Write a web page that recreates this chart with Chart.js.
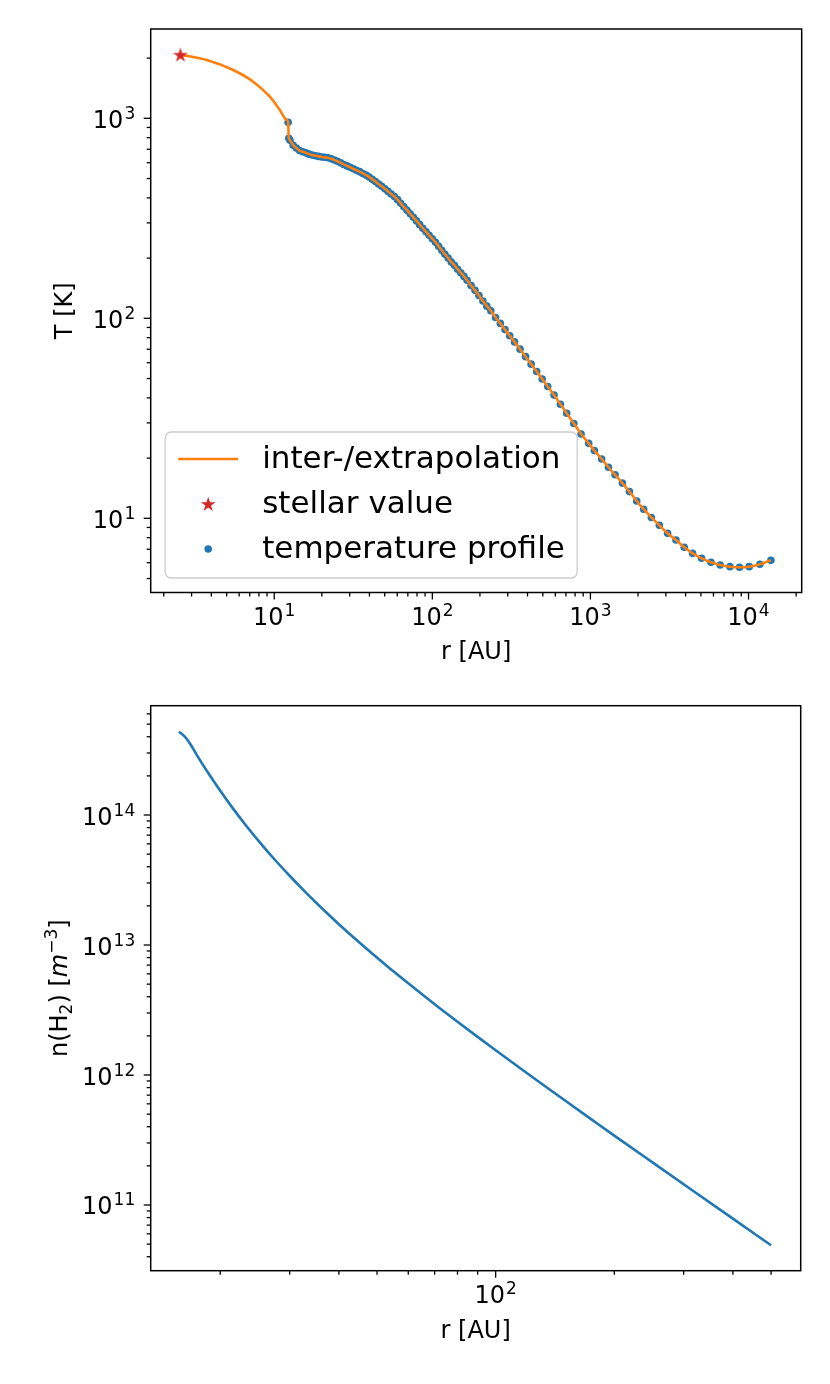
<!DOCTYPE html>
<html>
<head>
<meta charset="utf-8">
<title>Temperature and density profile</title>
<script src="https://cdn.jsdelivr.net/npm/chart.js@4.4.1/dist/chart.umd.min.js"></script>
<style>
  html, body { margin: 0; padding: 0; background: #fff; overflow: hidden; }
  #wrap { position: relative; width: 830px; height: 1384px; }
  canvas { position: absolute; left: 0; }
</style>
</head>
<body>
<div id="wrap">
  <canvas id="tempChart" width="830" height="672" style="top:0px"></canvas>
  <canvas id="densChart" width="830" height="712" style="top:672px"></canvas>
</div>
<script>
// temperature profile (dots), r in AU, T in K
const tempR = [12.24, 12.37, 12.59, 13.18, 13.80, 14.45, 15.14, 15.85, 16.60, 17.38,
  18.20, 19.05, 19.95, 20.89, 21.88, 22.91, 23.99, 25.12, 26.30, 27.54,
  28.84, 30.20, 31.62, 33.11, 34.67, 36.31, 38.02, 39.81, 41.69, 43.65,
  45.71, 47.86, 50.12, 52.48, 54.95, 57.54, 60.26, 63.10, 66.07, 69.18,
  72.44, 75.86, 79.43, 83.18, 87.10, 91.20, 95.50, 100.0, 104.7, 109.6,
  114.8, 120.2, 125.9, 131.8, 138.0, 144.5, 151.4, 158.5, 166.0, 175.8,
  186.2, 197.2, 208.9, 221.3, 234.4, 251.2, 269.2, 288.4, 309.0, 331.1,
  358.9, 389.0, 421.7, 457.1, 495.5, 537.0, 588.8, 645.7, 707.9, 785.2,
  873, 975, 1059, 1178, 1300, 1432, 1593, 1764, 1962, 2172,
  2429, 2729, 3077, 3475, 3923, 4429, 5047, 5788, 6625, 7630,
  8775, 10100, 11800, 13850];
const tempT = [955, 794, 776, 733, 711, 690, 680, 672, 662, 656,
  650, 645, 641, 638, 635, 628, 619, 610, 599, 588,
  578, 569, 559, 550, 541, 530, 520, 509, 496, 483,
  469, 457, 444, 431, 418, 406, 392, 376, 361, 347,
  333, 320, 307, 294, 282, 271, 260, 250, 240, 229,
  219, 209, 200, 191, 184, 176, 169, 162, 155, 146,
  138, 130, 122, 115, 109, 101, 94.3, 87.8, 81.8, 76.2,
  70.1, 64.3, 59.0, 54.2, 49.7, 45.6, 41.3, 37.2, 33.5, 29.8,
  26.4, 23.7, 21.8, 19.8, 18.0, 16.5, 15.0, 13.6, 12.2, 11.1,
  10.1, 9.23, 8.41, 7.79, 7.16, 6.68, 6.31, 6.03, 5.84, 5.73,
  5.69, 5.73, 5.89, 6.17];

// stellar value and the extrapolated part of the curve
const stellarR = [2.55];
const stellarT = [2080];
const extrapR = [3.74, 5.50, 7.36, 9.38, 10.85, 11.96];
const extrapT = [1956, 1744, 1524, 1282, 1100, 981];

// H2 density, r in AU, n in m^-3
const densR = [15.7, 16.3, 16.8, 17.4, 18.5, 20.0, 21.6, 23.3, 25.2, 27.3,
  30.0, 33.0, 36.5, 40.0, 44.5, 49.0, 54.0, 60.0, 66.0, 72.0,
  80.0, 90.0, 100, 115, 130, 150, 175, 200, 250, 320,
  400, 500];
const densN = [4.38e14, 3.98e14, 3.50e14, 2.93e14, 2.18e14, 1.536e14, 1.110e14, 8.24e13, 6.16e13, 4.65e13,
  3.41e13, 2.53e13, 1.875e13, 1.446e13, 1.083e13, 8.42e12, 6.58e12, 5.07e12, 4.03e12, 3.28e12,
  2.57e12, 1.965e12, 1.550e12, 1.136e12, 8.68e11, 6.36e11, 4.56e11, 3.42e11, 2.126e11, 1.259e11,
  7.85e10, 4.90e10];

// labelled decades on each axis
const tempXLabels = [10, 100, 1000, 10000];
const tempYLabels = [10, 100, 1000];
const densXLabels = [100];
const densYLabels = [1e11, 1e12, 1e13, 1e14];
const legendLabels = ['inter-/extrapolation', 'stellar value', 'temperature profile'];

const BLUE = '#1f77b4', ORANGE = '#ff7f0e', RED = '#d62728';
const FAMILY = '"DejaVu Sans", sans-serif';
Chart.defaults.font.family = FAMILY;
Chart.defaults.font.size = 24;
Chart.defaults.color = '#000';

const SUP = {'-': '\u207b', '0': '\u2070', '1': '\u00b9', '2': '\u00b2', '3': '\u00b3',
  '4': '\u2074', '5': '\u2075', '6': '\u2076', '7': '\u2077', '8': '\u2078', '9': '\u2079'};
function powerLabel(v) {
  const e = Math.round(Math.log10(v));
  return '10' + String(e).split('').map(c => SUP[c]).join('');
}
function isDecade(v) {
  const l = Math.log10(v);
  return Math.abs(l - Math.round(l)) < 1e-6;
}
function logTicks(min, max) {
  const out = [];
  for (let d = Math.floor(Math.log10(min)); d <= Math.ceil(Math.log10(max)); d++) {
    for (let m = 1; m <= 9; m++) {
      const v = m * Math.pow(10, d);
      if (v >= min && v <= max) out.push({ value: v, major: m === 1 });
    }
  }
  return out;
}
function pts(xs, ys) { return xs.map((x, i) => ({ x: x, y: ys[i] })); }

// "10" with a raised exponent, like matplotlib's mathtext tick labels
function drawPower(ctx, v, x, base, align) {
  const e = String(Math.round(Math.log10(v)));
  ctx.font = '24px ' + FAMILY;
  const w1 = ctx.measureText('10').width;
  ctx.font = '17px ' + FAMILY;
  const w2 = ctx.measureText(e).width;
  const w = w1 + 1 + w2;
  const x0 = align === 'center' ? x - w / 2 : x - w;
  ctx.font = '24px ' + FAMILY;
  ctx.fillText('10', x0, base);
  ctx.font = '17px ' + FAMILY;
  ctx.fillText(e, x0 + w1 + 1, base - 9);
}

function logAxis(min, max, labels, pad, fit, title) {
  return {
    type: 'logarithmic', min: min, max: max,
    afterBuildTicks: s => { s.ticks = logTicks(min, max); },
    afterFit: fit,
    ticks: {
      autoSkip: false, maxRotation: 0, minRotation: 0, padding: pad,
      font: { size: 24 }, color: 'rgba(0,0,0,0)',
      callback: v => labels.includes(v) ? powerLabel(v) : ''
    },
    grid: { display: true, drawOnChartArea: false, drawTicks: true, tickLength: 7, tickColor: 'rgba(0,0,0,0)' },
    border: { display: false },
    title: title
  };
}

function starPath(ctx, cx, cy, R) {
  const r = R * 0.382;
  ctx.beginPath();
  for (let i = 0; i < 10; i++) {
    const ang = -Math.PI / 2 + i * Math.PI / 5;
    const rad = i % 2 ? r : R;
    ctx.lineTo(cx + rad * Math.cos(ang), cy + rad * Math.sin(ang));
  }
  ctx.closePath();
}
const starImg = document.createElement('canvas');
starImg.width = 18; starImg.height = 18;
(function () {
  const c = starImg.getContext('2d');
  starPath(c, 9, 9.6, 7.8);
  c.fillStyle = RED;
  c.fill();
})();

// spines, tick marks and decade labels, matplotlib style
function makeFrame(xLabels, yLabels) {
  return {
    id: 'frame',
    afterDatasetsDraw(chart) {
      const { ctx, chartArea: a, scales } = chart;
      ctx.save();
      ctx.strokeStyle = '#000';
      ctx.lineWidth = 1.3;
      scales.x.ticks.forEach(t => {
        const p = scales.x.getPixelForValue(t.value);
        const len = isDecade(t.value) ? 7 : 4;
        ctx.beginPath(); ctx.moveTo(p, a.bottom); ctx.lineTo(p, a.bottom + len); ctx.stroke();
      });
      scales.y.ticks.forEach(t => {
        const p = scales.y.getPixelForValue(t.value);
        const len = isDecade(t.value) ? 7 : 4;
        ctx.beginPath(); ctx.moveTo(a.left, p); ctx.lineTo(a.left - len, p); ctx.stroke();
      });
      ctx.lineWidth = 1.5;
      ctx.strokeRect(a.left, a.top, a.right - a.left, a.bottom - a.top);

      ctx.fillStyle = '#000';
      ctx.textBaseline = 'alphabetic';
      ctx.textAlign = 'left';
      xLabels.forEach(v => {
        drawPower(ctx, v, scales.x.getPixelForValue(v), a.bottom + 32.5, 'center');
      });
      yLabels.forEach(v => {
        drawPower(ctx, v, a.left - 15.5, scales.y.getPixelForValue(v) + 9.5, 'right');
      });
      ctx.restore();
    }
  };
}

const tempLegend = {
  id: 'tempLegend',
  afterDraw(chart) {
    const { ctx, chartArea: a } = chart;
    const w = 412, h = 146;
    const x = a.left + 14.5, y = a.bottom - 14.5 - h;
    ctx.save();
    ctx.beginPath();
    ctx.roundRect(x, y, w, h, 6);
    ctx.fillStyle = 'rgba(255,255,255,0.8)';
    ctx.fill();
    ctx.lineWidth = 1.3;
    ctx.strokeStyle = '#cccccc';
    ctx.stroke();
    const hx = x + 13, hw = 60;
    legendLabels.forEach((label, i) => {
      const cy = y + 27 + i * 45;
      if (i === 0) {
        ctx.strokeStyle = ORANGE; ctx.lineWidth = 2.6;
        ctx.beginPath(); ctx.moveTo(hx, cy); ctx.lineTo(hx + hw, cy); ctx.stroke();
      } else if (i === 1) {
        starPath(ctx, hx + hw / 2, cy + 0.6, 7.8);
        ctx.fillStyle = RED; ctx.fill();
      } else {
        ctx.beginPath(); ctx.arc(hx + hw / 2, cy, 3.8, 0, Math.PI * 2);
        ctx.fillStyle = BLUE; ctx.fill();
      }
      ctx.font = '31px ' + FAMILY;
      ctx.fillStyle = '#000';
      ctx.textBaseline = 'middle';
      ctx.textAlign = 'left';
      ctx.fillText(label, x + 97, cy + 1);
    });
    ctx.restore();
  }
};

// y label of the density panel: n(H_2) [m^-3] with sub/superscript
const densYLabel = {
  id: 'densYLabel',
  afterDraw(chart) {
    const { ctx, chartArea: a } = chart;
    const parts = [
      { t: 'n(H', f: '24px ' + FAMILY, dy: 0 },
      { t: '2', f: '17px ' + FAMILY, dy: 5 },
      { t: ') [', f: '24px ' + FAMILY, dy: 0 },
      { t: 'm', f: 'italic 24px ' + FAMILY, dy: 0 },
      { t: '\u22123', f: '17px ' + FAMILY, dy: -10 },
      { t: ']', f: '24px ' + FAMILY, dy: 0 }
    ];
    ctx.save();
    let total = 0;
    parts.forEach(p => { ctx.font = p.f; p.w = ctx.measureText(p.t).width; total += p.w; });
    ctx.translate(60, (a.top + a.bottom) / 2);
    ctx.rotate(-Math.PI / 2);
    ctx.fillStyle = '#000';
    ctx.textBaseline = 'alphabetic';
    ctx.textAlign = 'left';
    let cx = -total / 2;
    parts.forEach(p => { ctx.font = p.f; ctx.fillText(p.t, cx, 7 + p.dy); cx += p.w; });
    ctx.restore();
  }
};

new Chart(document.getElementById('tempChart'), {
  type: 'scatter',
  data: {
    datasets: [
      { label: legendLabels[1], data: pts(stellarR, stellarT), pointStyle: starImg, pointRadius: 9 },
      {
        label: legendLabels[0],
        data: pts(stellarR.concat(extrapR, tempR), stellarT.concat(extrapT, tempT)),
        showLine: true, borderColor: ORANGE, borderWidth: 2.6, pointRadius: 0,
        cubicInterpolationMode: 'monotone', fill: false
      },
      {
        label: legendLabels[2], data: pts(tempR, tempT),
        backgroundColor: BLUE, borderColor: BLUE, pointBorderWidth: 0, pointRadius: 3.8
      }
    ]
  },
  options: {
    responsive: false, animation: false, events: [],
    layout: { padding: { left: 0, top: 29, right: 28.3, bottom: 0 } },
    plugins: { legend: { display: false }, tooltip: { enabled: false } },
    scales: {
      x: logAxis(1.654, 21700, tempXLabels, 3, s => { s.height = 79.5; },
        { display: true, text: 'r [AU]', font: { size: 24 }, color: '#000', padding: { top: 0, bottom: 4.4 } }),
      y: logAxis(4.256, 2796, tempYLabels, 8, s => { s.width = 150.7; },
        { display: true, text: 'T [K]', font: { size: 24 }, color: '#000', padding: { top: 51.3, bottom: 0 } })
    }
  },
  plugins: [makeFrame(tempXLabels, tempYLabels), tempLegend]
});

new Chart(document.getElementById('densChart'), {
  type: 'scatter',
  data: {
    datasets: [
      {
        label: 'n(H2)', data: pts(densR, densN),
        showLine: true, borderColor: BLUE, borderWidth: 2.6, pointRadius: 0,
        cubicInterpolationMode: 'monotone', fill: false
      }
    ]
  },
  options: {
    responsive: false, animation: false, events: [],
    layout: { padding: { left: 0, top: 33.7, right: 29.3, bottom: 0 } },
    plugins: { legend: { display: false }, tooltip: { enabled: false } },
    scales: {
      x: logAxis(13.32, 594.5, densXLabels, 3, s => { s.height = 113.3; },
        { display: true, text: 'r [AU]', font: { size: 24 }, color: '#000', padding: { top: 0, bottom: 38.2 } }),
      y: logAxis(3.123e10, 6.933e14, densYLabels, 8, s => { s.width = 150.7; },
        { display: false })
    }
  },
  plugins: [makeFrame(densXLabels, densYLabels), densYLabel]
});
</script>
</body>
</html>
